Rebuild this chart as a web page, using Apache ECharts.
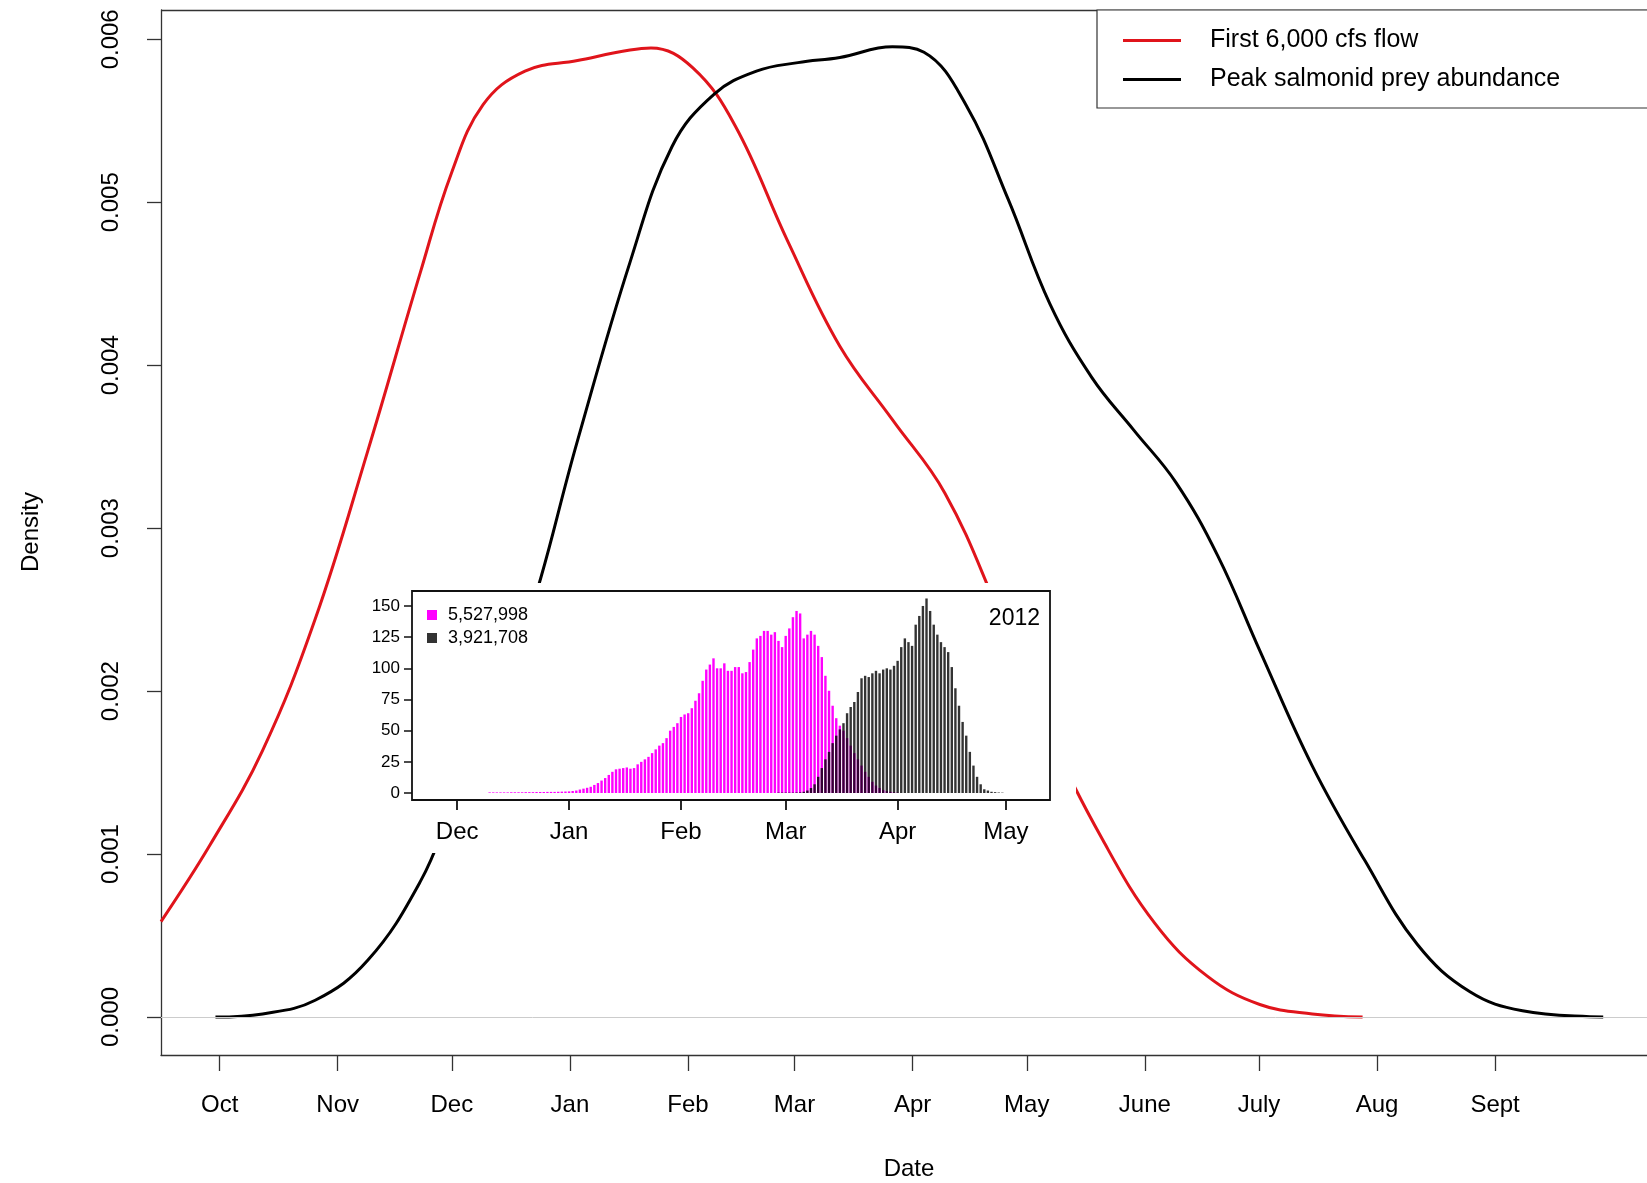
<!DOCTYPE html>
<html><head><meta charset="utf-8">
<script src="https://cdn.jsdelivr.net/npm/echarts@6/dist/echarts.min.js"></script>
<style>html,body{margin:0;padding:0;background:#fff}#c{width:1647px;height:1183px}</style>
</head><body><div id="c"></div>
<script>
// Main chart: day offset from Oct 1, density
const monthTicks = [0,31,61,92,123,151,182,212,243,273,304,335];
const monthLabels = ['Oct','Nov','Dec','Jan','Feb','Mar','Apr','May','June','July','Aug','Sept'];
const densityTicks = [0,0.001,0.002,0.003,0.004,0.005,0.006];
const flowDays = [-15.4,-2.5,11.3,25.1,38.9,52.7,60.9,69.2,80.2,94.0,107.8,113.3,124.3,135.4,149.2,162.9,176.7,190.5,204.3,218.1,231.9,245.7,259.4,273.2,287.0,300.2];
const flowDensity = [0.000586,0.001057,0.001637,0.002442,0.003473,0.004568,0.005180,0.005599,0.005805,0.005870,0.005934,0.005947,0.005825,0.005470,0.004762,0.004117,0.003666,0.003215,0.002506,0.001733,0.001089,0.000573,0.000251,0.000077,0.000019,0];
const preyDays = [-1.1,11.3,25.1,38.9,52.7,60.9,66.4,80.2,94.0,107.8,118.8,129.9,141.0,151.9,162.9,176.7,185.0,196.0,207.1,218.1,229.1,240.1,251.2,262.2,273.2,287.0,300.8,314.6,328.4,342.2,363.4];
const preyDensity = [0,0.000019,0.000103,0.000348,0.000831,0.001282,0.001604,0.002378,0.003537,0.004633,0.005341,0.005664,0.005805,0.005857,0.005889,0.005954,0.005921,0.005599,0.005019,0.004375,0.003924,0.003602,0.003280,0.002829,0.002249,0.001540,0.000960,0.000445,0.000155,0.000039,0];
// Inset: day offset from Dec 1 2012 season
const insetTicks = [0,31,62,91,122,152];
const insetLabels = ['Dec','Jan','Feb','Mar','Apr','May'];
const countTicks = [0,25,50,75,100,125,150];
const flowStartDay = 9;
const flowCounts = [0.5,0.5,0.5,0.5,0.5,0.5,0.6,0.6,0.6,0.6,0.7,0.7,0.7,0.8,0.8,0.8,0.9,0.9,0.9,1,
 1.1,1.2,1.3,1.6,2,2.8,3.5,4.2,5,6.5,8,10,12,14.5,17,19,19.5,20,20.5,19.5,20,23,25,27,29,32,35,38,40,44,
 50,53,56,61,63,64,68,74,80,90,99,103,108,100,100,104,98,98,101,101,96,97,105,115,124,126,130,130,127,129,
 122,117,126,132,141,146,144,124,127,130,127,118,109,94,82,70,60,54,50,44,38,32,27,22,17,13,9,6,4,2.5,1.5,1,0.6,0.3];
const preyStartDay = 89;
const preyCounts = [0.3,0.3,0.3,0.3,0.3,0.4,0.5,1,2,4,7,13,20,27,33,40,46,51,56,64,69,73,81,92,94,93,96,98,96,99,100,99,102,106,
 117,124,121,118,135,142,150,156,146,135,127,121,117,113,101,84,70,57,46,33,22,13,7,3,2,1,0.7,0.4,0.3];

const pairs = (xs, ys) => xs.map((x,i)=>[x, ys[i]]);
const flowBars = flowCounts.map((v,i)=>[flowStartDay+i, v]);
const preyBars = preyCounts.map((v,i)=>[preyStartDay+i, v]);
const F = 'Liberation Sans, Arial, sans-serif';

const chart = echarts.init(document.getElementById('c'));
chart.setOption({
  animation:false,
  textStyle:{fontFamily:F},
  legend:[{
    data:['First 6,000 cfs flow','Peak salmonid prey abundance'],
    left:1097, top:10, orient:'vertical', icon:'rect', itemWidth:58, itemHeight:3, itemGap:14,
    textStyle:{fontSize:25,color:'#000',fontFamily:F, padding:[0,0,0,24]},
    borderColor:'#333', borderWidth:1.2, padding:[18,160,16,26], backgroundColor:'#fff', z:20
  },{
    data:['5,527,998','3,921,708'],
    left:422, top:601, orient:'vertical', icon:'rect', itemWidth:10, itemHeight:10, itemGap:5,
    textStyle:{fontSize:18,color:'#000',fontFamily:F, padding:[0,0,0,6]}, z:120
  }],
  grid:[
    {left:161, top:10, width:1486, bottom:128, show:false},
    {left:412, top:591, width:638, height:209, show:true, borderColor:'#111', borderWidth:1.8, z:100}
  ],
  graphic:[
    {type:'line', shape:{x1:161,y1:10.5,x2:1647,y2:10.5}, style:{stroke:'#333', lineWidth:1.3}, z:10},
    {type:'rect', shape:{x:336,y:583,width:740,height:270}, style:{fill:'#fff'}, z:50},
    {type:'text', right:1647-1040, top:607, style:{text:'2012', fontSize:23, fill:'#000', fontFamily:F}, z:120},
    {type:'text', style:{text:'Density', fontSize:24, fill:'#000', fontFamily:F, textAlign:'center', textVerticalAlign:'middle'}, x:31, y:532, rotation:Math.PI/2, z:20},
    {type:'text', style:{text:'Date', fontSize:24, fill:'#000', fontFamily:F, textAlign:'center', textVerticalAlign:'middle'}, x:909, y:1169, z:20}
  ],
  xAxis:[
    {gridIndex:0, type:'value', min:-15.4, max:374.9, splitLine:{show:false},
     axisLine:{show:true, onZero:false, lineStyle:{color:'#333',width:1.3}},
     axisTick:{show:true, length:16, lineStyle:{color:'#333',width:1.3}, customValues:monthTicks},
     axisLabel:{customValues:monthTicks, formatter:v=>monthLabels[monthTicks.indexOf(v)], fontSize:24, color:'#000', margin:38}},
    {gridIndex:1, type:'value', min:-12.5, max:164.2, splitLine:{show:false}, z:100,
     axisLine:{show:false, onZero:false},
     axisTick:{show:true, length:10, lineStyle:{color:'#111',width:1.8}, customValues:insetTicks},
     axisLabel:{customValues:insetTicks, formatter:v=>insetLabels[insetTicks.indexOf(v)], fontSize:24, color:'#000', margin:20}}
  ],
  yAxis:[
    {gridIndex:0, type:'value', min:-0.000233, max:0.00618, splitLine:{show:false},
     axisLine:{show:true, onZero:false, lineStyle:{color:'#333',width:1.3}},
     axisTick:{show:true, length:14, lineStyle:{color:'#333',width:1.3}, customValues:densityTicks},
     axisLabel:{customValues:densityTicks, formatter:v=>v.toFixed(3), rotate:90, fontSize:24, color:'#000', margin:38}},
    {gridIndex:1, type:'value', min:-5.6, max:162, splitLine:{show:false}, z:100,
     axisLine:{show:false, onZero:false},
     axisTick:{show:true, length:8, lineStyle:{color:'#111',width:1.5}, customValues:countTicks},
     axisLabel:{customValues:countTicks, fontSize:17, color:'#000', margin:12}}
  ],
  series:[
    {name:'First 6,000 cfs flow', type:'line', xAxisIndex:0, yAxisIndex:0, data:pairs(flowDays,flowDensity),
     smooth:0.4, showSymbol:false, lineStyle:{color:'#e0141b', width:3}, itemStyle:{color:'#e0141b'}, z:2,
     markLine:{silent:true, symbol:'none', label:{show:false}, lineStyle:{color:'#ccc', type:'solid', width:1}, data:[{yAxis:0}]}},
    {name:'Peak salmonid prey abundance', type:'line', xAxisIndex:0, yAxisIndex:0, data:pairs(preyDays,preyDensity),
     smooth:0.4, showSymbol:false, lineStyle:{color:'#000', width:3}, itemStyle:{color:'#000'}, z:2},
    {name:'5,527,998', type:'bar', xAxisIndex:1, yAxisIndex:1, data:flowBars, barWidth:2.4, barGap:'-100%',
     itemStyle:{color:'#ff00ff'}, z:100},
    {name:'3,921,708', type:'bar', xAxisIndex:1, yAxisIndex:1, data:preyBars, barWidth:2.4, barGap:'-100%',
     itemStyle:{color:'rgba(0,0,0,0.8)'}, z:101}
  ]
});
</script></body></html>
